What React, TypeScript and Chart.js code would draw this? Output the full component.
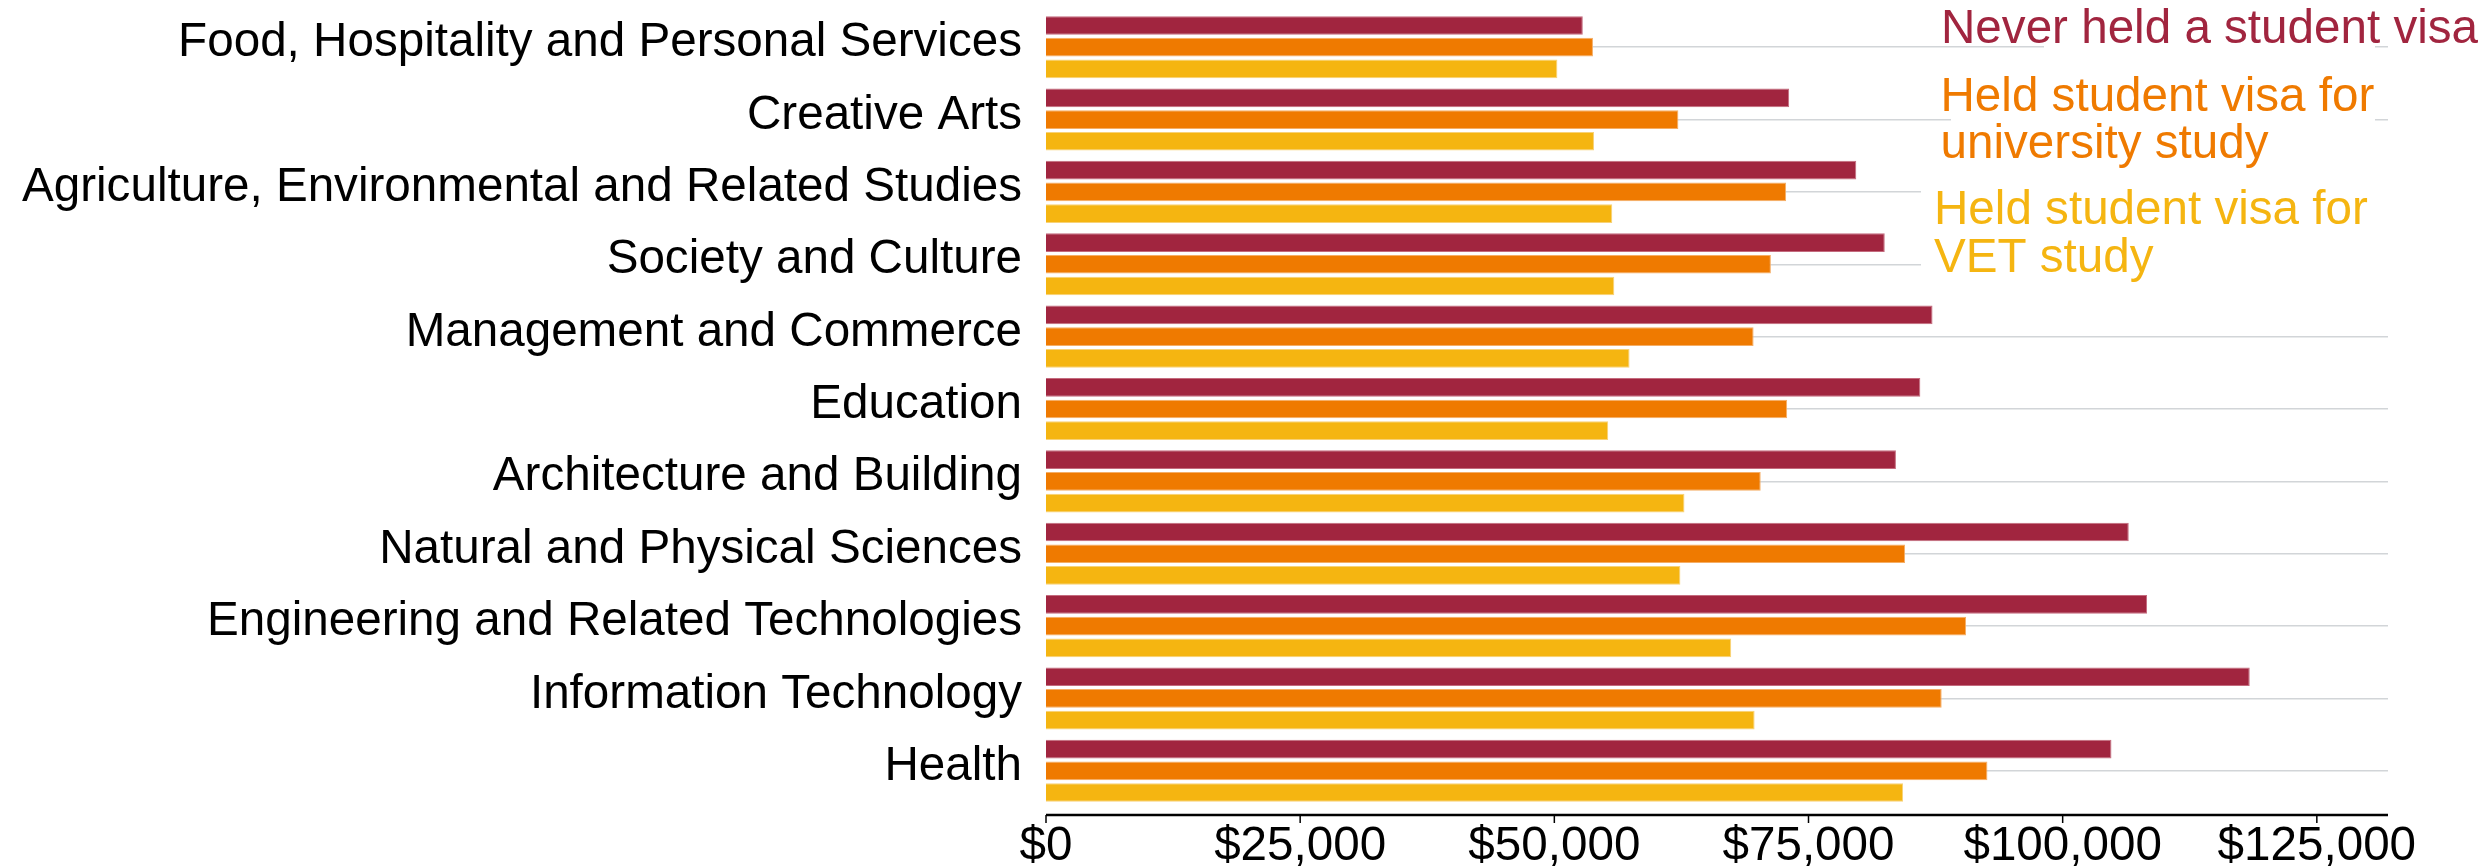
import React, { useEffect, useRef } from "react";
import { Chart, registerables } from "chart.js";

Chart.register(...registerables);

const categories = [
  "Food, Hospitality and Personal Services",
  "Creative Arts",
  "Agriculture, Environmental and Related Studies",
  "Society and Culture",
  "Management and Commerce",
  "Education",
  "Architecture and Building",
  "Natural and Physical Sciences",
  "Engineering and Related Technologies",
  "Information Technology",
  "Health",
];

const neverHeld = [52800, 73100, 79700, 82500, 87200, 86000, 83600, 106500, 108300, 118400, 104800];
const uniVisa = [53800, 62200, 72800, 71300, 69600, 72900, 70300, 84500, 90500, 88100, 92600];
const vetVisa = [50300, 53900, 55700, 55900, 57400, 55300, 62800, 62400, 67400, 69700, 84300];

const seriesNames = ["Never held a student visa", "Held student visa for university study", "Held student visa for VET study"];
const legendLines = [["Never held a student visa"], ["Held student visa for", "university study"], ["Held student visa for", "VET study"]];
const tickValues = [0, 25000, 50000, 75000, 100000, 125000];

const CRIMSON = "#A1253F";
const ORANGE = "#EF7A00";
const YELLOW = "#F5B511";
const FONT = "'Liberation Sans', Arial, sans-serif";
const FS = 47.6;

const axisPlugin = {
  id: "customAxis",
  afterDatasetsDraw(chart: any) {
    const ctx = chart.ctx;
    const xs = chart.scales.x;
    const y0 = chart.chartArea.bottom + 8;
    ctx.save();
    ctx.strokeStyle = "#000";
    ctx.lineWidth = 2.3;
    ctx.beginPath();
    ctx.moveTo(xs.left, y0);
    ctx.lineTo(xs.right, y0);
    ctx.stroke();
    ctx.lineWidth = 1.5;
    xs.ticks.forEach((t: any) => {
      const px = xs.getPixelForValue(t.value);
      ctx.beginPath();
      ctx.moveTo(px, y0);
      ctx.lineTo(px, y0 + 8);
      ctx.stroke();
    });
    ctx.restore();
  },
};

const legendPlugin = {
  id: "textLegend",
  afterDatasetsDraw(chart: any) {
    const ctx = chart.ctx;
    const W = chart.width;
    ctx.save();
    // white patches behind labels (hide gridlines)
    ctx.fillStyle = "#fff";
    ctx.fillRect(W - 445, 40, 331, 14);
    ctx.fillRect(W - 538, 60, 424, 105);
    ctx.fillRect(W - 568, 180, 468, 100);
    const colors = [CRIMSON, ORANGE, YELLOW];
    const xs = [W - 548, W - 548.5, W - 555];
    const baselines = [43.3, 110.5, 224];
    const lh = 47.6;
    ctx.font = `${FS}px ${FONT}`;
    ctx.textAlign = "left";
    ctx.textBaseline = "alphabetic";
    legendLines.forEach((lines, i) => {
      ctx.fillStyle = colors[i];
      lines.forEach((ln, j) => ctx.fillText(ln, xs[i], baselines[i] + j * lh));
    });
    ctx.restore();
  },
};

export default function App() {
  const ref = useRef<HTMLCanvasElement>(null);
  useEffect(() => {
    document.body.style.margin = "0";
    const chart = new Chart(ref.current as HTMLCanvasElement, {
      type: "bar",
      data: {
        labels: categories,
        datasets: [
          { label: seriesNames[0], data: neverHeld, backgroundColor: CRIMSON, borderColor: "#c46b7e", borderWidth: 1 },
          { label: seriesNames[1], data: uniVisa, backgroundColor: ORANGE, borderColor: "#f5ae66", borderWidth: 1 },
          { label: seriesNames[2], data: vetVisa, backgroundColor: YELLOW, borderColor: "#f8d277", borderWidth: 1 },
        ],
      },
      options: {
        indexAxis: "y",
        responsive: false,
        animation: false,
        devicePixelRatio: 1,
        categoryPercentage: 0.9,
        barPercentage: 0.86,
        layout: { padding: { top: 11, right: 101, left: 0, bottom: 0 } },
        plugins: { legend: { display: false }, tooltip: { enabled: false } },
        scales: {
          x: {
            min: 0,
            max: 132000,
            afterBuildTicks: (scale: any) => {
              scale.ticks = tickValues.map((v) => ({ value: v }));
            },
            afterFit: (scale: any) => {
              scale.height = 61;
              scale.paddingLeft = 0;
              scale.paddingRight = 0;
            },
            border: { display: false },
            grid: { display: false, drawTicks: false },
            ticks: {
              autoSkip: false,
              maxRotation: 0,
              padding: 11,
              color: "#000",
              font: { family: FONT, size: FS },
              callback: (v: any) => "$" + Number(v).toLocaleString("en-US"),
            },
          },
          y: {
            afterFit: (scale: any) => {
              scale.width = 1046;
              scale.paddingTop = 0;
              scale.paddingBottom = 0;
            },
            border: { display: false },
            grid: { offset: false, drawTicks: false, color: "#d2d5d8", lineWidth: 1.5 },
            ticks: {
              autoSkip: false,
              padding: 24,
              labelOffset: -4,
              color: "#000",
              font: { family: FONT, size: FS },
            },
          },
        },
      },
      plugins: [axisPlugin, legendPlugin],
    } as any);
    return () => chart.destroy();
  }, []);
  return (
    <div style={{ width: 2489, height: 868 }}>
      <canvas ref={ref} width={2489} height={868} style={{ display: "block" }} />
    </div>
  );
}
